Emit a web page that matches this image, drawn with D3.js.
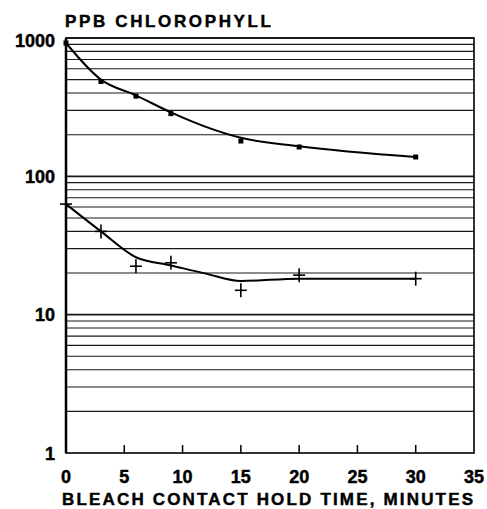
<!DOCTYPE html>
<html>
<head>
<meta charset="utf-8">
<script src="https://cdn.jsdelivr.net/npm/d3@7"></script>
<style>
	body{margin:0;background:#fff;}
	text{stroke:#000;stroke-width:0.45px;}
</style>
</head>
<body>
<div id="chartHolder"></div>
<script>
var upperTimes = [0, 3, 6, 9, 15, 20, 30];
var upperValues = [920, 485, 380, 284, 180, 163, 138];
var lowerTimes = [0, 3, 6, 9, 15, 20, 30];
var lowerValues = [63, 40, 22.4, 23.7, 15, 19.3, 18.2];

// hand drawn fit curves
var upperCurveTimes = [0, 3, 6, 9, 12, 15, 20, 30];
var upperCurveValues = [920, 500, 385, 290, 228, 190, 165, 138];
var lowerCurveTimes = [0, 3, 6, 9, 12, 15, 20, 30];
var lowerCurveValues = [63, 40, 26, 22.7, 19.8, 17.5, 18.2, 18.2];

var xTicks = [0, 5, 10, 15, 20, 25, 30, 35];
var yLabels = [1, 10, 100, 1000];

var width = 487;
var height = 509;
var plotLeft = 66, plotRight = 474, plotTop = 38, plotBottom = 453;

var svg = d3.select("#chartHolder")
				.append("svg")
				.attr("width", width+"px")
				.attr("height", height+"px");

var x = d3.scaleLinear().domain([0, 35]).range([plotLeft, plotRight]);
var y = d3.scaleLog().domain([1, 1000]).range([plotBottom, plotTop]);

var font = "'Liberation Sans', Arial, sans-serif";

// horizontal grid, every 1..9 step of each decade
var gridValues = [];
[1, 10, 100].forEach(function(d){
	for(var k = 2; k <= 10; k++){ gridValues.push(d*k); }
});

svg.selectAll(".grid")
	.data(gridValues)
	.enter().append("line")
	.attr("class", "grid")
	.attr("x1", plotLeft)
	.attr("x2", plotRight)
	.attr("y1", function(d){return y(d);})
	.attr("y2", function(d){return y(d);})
	.attr("stroke", "#1a1a1a")
	.attr("stroke-width", function(d){return (d == 10 || d == 100) ? 1.6 : 1.1;});

// frame
svg.append("rect")
	.attr("x", plotLeft)
	.attr("y", plotTop)
	.attr("width", plotRight-plotLeft)
	.attr("height", plotBottom-plotTop)
	.attr("fill", "none")
	.attr("stroke", "#000")
	.attr("stroke-width", 1.6);

svg.append("line")
	.attr("x1", plotLeft).attr("x2", plotLeft)
	.attr("y1", plotTop).attr("y2", plotBottom)
	.attr("stroke", "#000")
	.attr("stroke-width", 2.5);

// x ticks pointing inward
svg.selectAll(".xtick")
	.data(xTicks.slice(1, -1))
	.enter().append("line")
	.attr("x1", function(d){return x(d);})
	.attr("x2", function(d){return x(d);})
	.attr("y1", plotBottom)
	.attr("y2", plotBottom-8)
	.attr("stroke", "#000")
	.attr("stroke-width", 1.5);

svg.selectAll(".xlab")
	.data(xTicks)
	.enter().append("text")
	.attr("text-anchor", "middle")
	.style("font-family", font)
	.style("font-weight", "bold")
	.style("font-size", 18+"px")
	.attr("x", function(d){return x(d);})
	.attr("y", 483)
	.text(function(d){return d;});

svg.selectAll(".ylab")
	.data(yLabels)
	.enter().append("text")
	.attr("text-anchor", "end")
	.style("font-family", font)
	.style("font-weight", "bold")
	.style("font-size", 18+"px")
	.attr("x", 55)
	.attr("y", function(d){return y(d)+ (d == 1000 ? 9 : 6.5);})
	.text(function(d){return d;});

svg.append("text")
	.style("font-family", font)
	.style("font-weight", "bold")
	.style("font-size", 17+"px")
	.attr("x", 65)
	.attr("y", 27)
	.attr("textLength", 206)
	.attr("lengthAdjust", "spacing")
	.text("PPB CHLOROPHYLL");

svg.append("text")
	.style("font-family", font)
	.style("font-weight", "bold")
	.style("font-size", 17+"px")
	.attr("x", 62)
	.attr("y", 505)
	.attr("textLength", 411)
	.attr("lengthAdjust", "spacing")
	.text("BLEACH CONTACT HOLD TIME, MINUTES");

// fit curves
var line = d3.line()
				.x(function(d){return x(d[0]);})
				.y(function(d){return y(d[1]);})
				.curve(d3.curveMonotoneX);

svg.append("path")
	.attr("d", line(d3.zip(upperCurveTimes, upperCurveValues)))
	.attr("fill", "none")
	.attr("stroke", "#000")
	.attr("stroke-width", 2);

svg.append("path")
	.attr("d", line(d3.zip(lowerCurveTimes, lowerCurveValues)))
	.attr("fill", "none")
	.attr("stroke", "#000")
	.attr("stroke-width", 2);

// square markers
svg.selectAll(".sq")
	.data(d3.zip(upperTimes, upperValues))
	.enter().append("rect")
	.attr("x", function(d){return x(d[0])-2.5;})
	.attr("y", function(d){return y(d[1])-2.5;})
	.attr("width", 5)
	.attr("height", 5)
	.attr("fill", "#000");

// cross markers
var crosses = svg.selectAll(".cross")
				.data(d3.zip(lowerTimes, lowerValues))
				.enter().append("g")
				.attr("transform", function(d){return "translate("+x(d[0])+","+y(d[1])+")";});

crosses.append("line")
	.attr("x1", -6).attr("x2", 6)
	.attr("y1", 0).attr("y2", 0)
	.attr("stroke", "#000")
	.attr("stroke-width", 1.6);
crosses.append("line")
	.attr("x1", 0).attr("x2", 0)
	.attr("y1", -7).attr("y2", 7)
	.attr("stroke", "#000")
	.attr("stroke-width", 1.6);
</script>
</body>
</html>
